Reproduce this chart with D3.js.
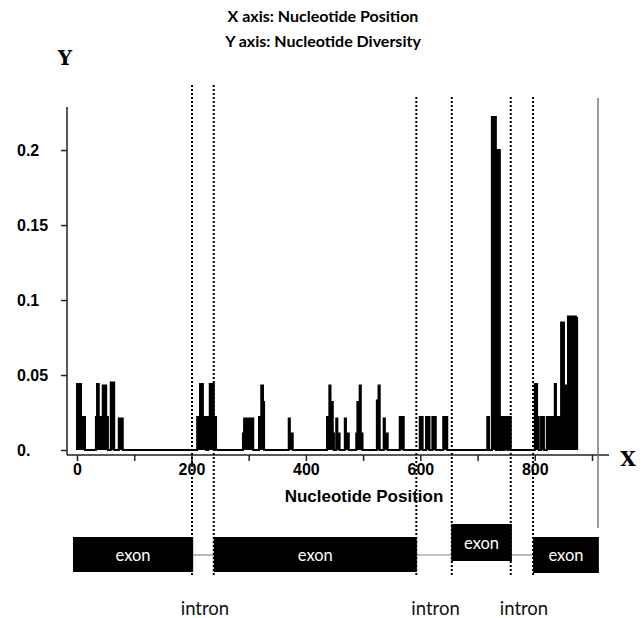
<!DOCTYPE html>
<html>
<head>
<meta charset="utf-8">
<script src="https://cdn.jsdelivr.net/npm/d3@7"></script>
<style>
  body { margin: 0; background: #fff; }
  .tick text { font-family: "Liberation Sans", Arial, sans-serif; font-weight: bold; font-size: 16px; }
</style>
</head>
<body>
<div id="chart"></div>
<script>
// sliding window values: each position starts a step that holds until the next one
var positions = [0, 0, 7, 14, 33, 35, 38, 45, 51, 54, 59, 65, 73, 80,
  210, 215, 220, 226, 229, 232, 239, 243,
  290, 292, 295, 298, 301, 304, 308, 318, 322, 325, 327,
  370, 372, 377,
  437, 441, 443, 447, 449, 453, 455, 459, 468, 470, 475,
  488, 490, 494, 496, 499, 524, 527, 529, 536, 538, 543, 564, 571,
  599, 604, 610, 616, 621, 627, 640, 647,
  717, 720, 725, 732, 735, 739, 741, 745, 747, 752, 753, 758,
  800, 804, 807, 811, 816, 821, 824, 827, 835, 837, 846, 851, 858, 872, 874];
var diversity = [0, 0.044, 0.022, 0, 0.022, 0.044, 0.022, 0.043, 0.022, 0, 0.045, 0, 0.021, 0,
  0.022, 0.044, 0.022, 0, 0.022, 0.044, 0.022, 0,
  0.011, 0.021, 0.011, 0.021, 0.011, 0.021, 0, 0.022, 0.043, 0.032, 0,
  0.021, 0.011, 0,
  0.022, 0.043, 0.032, 0.011, 0, 0.021, 0.011, 0, 0.021, 0.011, 0,
  0.011, 0.032, 0.043, 0.011, 0, 0.033, 0.043, 0, 0.021, 0.011, 0, 0.022, 0,
  0.022, 0, 0.022, 0, 0.022, 0, 0.022, 0,
  0.022, 0, 0.222, 0, 0.2, 0, 0.022, 0, 0.022, 0, 0.022, 0,
  0.044, 0.022, 0, 0.022, 0, 0.022, 0.011, 0.022, 0.044, 0.022, 0.085, 0.043, 0.089, 0.088, 0];

var yTicks = [0, 0.05, 0.1, 0.15, 0.2];
var yTickLabels = ["0.", "0.05", "0.1", "0.15", "0.2"];
var xTicks = [0, 100, 200, 300, 400, 500, 600, 700, 800, 900];
var xTickLabels = ["0", "", "200", "", "400", "", "600", "", "800", ""];

// gene structure (nucleotide positions)
var boundaries = [201, 239, 593, 655, 758, 797];
var exonStart = [-7, 239, 654, 797];
var exonEnd = [203, 594, 760, 912];
var exonLabels = ["exon", "exon", "exon", "exon"];
var intronLabels = ["intron", "intron", "intron"];

var width = 644, height = 618;

var svg = d3.select("#chart")
  .append("svg")
    .attr("width", width)
    .attr("height", height);

var x = d3.scaleLinear()
    .domain([0, 900])
    .range([77, 592]);

var y = d3.scaleLinear()
    .domain([0, 0.2287])
    .range([450, 107]);

// titles
svg.append("text")
    .attr("x", 323).attr("y", 22)
    .attr("text-anchor", "middle")
    .style("font-family", "Lato, sans-serif").style("font-weight", "bold").style("font-size", "16px")
    .text("X axis: Nucleotide Position");
svg.append("text")
    .attr("x", 323).attr("y", 47)
    .attr("text-anchor", "middle")
    .style("font-family", "Lato, sans-serif").style("font-weight", "bold").style("font-size", "16px")
    .text("Y axis: Nucleotide Diversity");

// axis letters
svg.append("text")
    .attr("x", 65).attr("y", 65)
    .attr("text-anchor", "middle")
    .style("font-family", "'DejaVu Serif', serif").style("font-weight", "bold").style("font-size", "20px")
    .text("Y");
svg.append("text")
    .attr("x", 628).attr("y", 466)
    .attr("text-anchor", "middle")
    .style("font-family", "'DejaVu Serif', serif").style("font-weight", "bold").style("font-size", "20px")
    .text("X");

// y axis
var yAxis = svg.append("g")
    .attr("transform", "translate(67,0)")
    .call(d3.axisLeft(y).tickValues(yTicks).tickSize(6).tickSizeOuter(0)
      .tickFormat(function(d, i) { return yTickLabels[i]; }));
yAxis.select(".domain").remove();
yAxis.selectAll(".tick line").attr("stroke", "#222").attr("stroke-width", 1.5);
yAxis.selectAll(".tick text")
    .attr("text-anchor", "start")
    .attr("x", -50);

svg.append("line")
    .attr("x1", 67).attr("x2", 67)
    .attr("y1", 107).attr("y2", 455)
    .attr("stroke", "#222").attr("stroke-width", 1.5);

// x axis
var xAxis = svg.append("g")
    .attr("transform", "translate(0,455)")
    .call(d3.axisBottom(x).tickValues(xTicks).tickSize(6).tickSizeOuter(0)
      .tickFormat(function(d, i) { return xTickLabels[i]; }));
xAxis.select(".domain").remove();
xAxis.selectAll(".tick line").attr("stroke", "#222").attr("stroke-width", 1.5);
xAxis.selectAll(".tick text").attr("y", 9);

svg.append("line")
    .attr("x1", 67).attr("x2", 609)
    .attr("y1", 455).attr("y2", 455)
    .attr("stroke", "#222").attr("stroke-width", 1.5);

svg.append("text")
    .attr("x", 364).attr("y", 502)
    .attr("text-anchor", "middle")
    .style("font-family", "'Liberation Sans', Arial, sans-serif").style("font-weight", "bold").style("font-size", "17px")
    .text("Nucleotide Position");

// right border line
svg.append("line")
    .attr("x1", 598).attr("x2", 598)
    .attr("y1", 98).attr("y2", 528)
    .attr("stroke", "#777").attr("stroke-width", 1.5);

// diversity, filled under the step line
var pts = positions.map(function(p, i) { return [p, diversity[i]]; });
var area = d3.area()
    .x(function(d) { return x(d[0]); })
    .y0(y(0))
    .y1(function(d) { return y(d[1]); })
    .curve(d3.curveStepAfter);
var line = d3.line()
    .x(function(d) { return x(d[0]); })
    .y(function(d) { return y(d[1]); })
    .curve(d3.curveStepAfter);

svg.append("path")
    .datum(pts)
    .attr("d", area)
    .attr("fill", "#000");

svg.append("path")
    .datum(pts)
    .attr("d", line)
    .attr("fill", "none")
    .attr("stroke", "#000")
    .attr("stroke-width", 2);

// intron connectors
for (var i = 0; i < exonStart.length - 1; i++) {
  svg.append("line")
      .attr("x1", x(exonEnd[i])).attr("x2", x(exonStart[i + 1]))
      .attr("y1", 555).attr("y2", 555)
      .attr("stroke", "#888").attr("stroke-width", 1.2);
}

// exon boxes
var exonTop = [537, 537, 524, 537];
var exonH = [35, 35, 37, 36];
svg.append("g").selectAll("rect")
    .data(exonStart)
    .enter()
    .append("rect")
    .attr("x", function(d) { return x(d); })
    .attr("y", function(d, i) { return exonTop[i]; })
    .attr("width", function(d, i) { return x(exonEnd[i]) - x(d); })
    .attr("height", function(d, i) { return exonH[i]; })
    .attr("fill", "#000");

svg.append("g").selectAll("text")
    .data(exonStart)
    .enter()
    .append("text")
    .attr("x", function(d, i) { return (x(d) + x(exonEnd[i])) / 2; })
    .attr("y", function(d, i) { return exonTop[i] + exonH[i] / 2 + 6; })
    .attr("text-anchor", "middle")
    .attr("fill", "#fff")
    .style("font-family", "Lato, sans-serif").style("font-size", "16.5px")
    .text(function(d, i) { return exonLabels[i]; });

// boundary dotted lines
var dotTop = [85, 85, 97, 97, 97, 97];
svg.append("g").selectAll("line")
    .data(boundaries)
    .enter()
    .append("line")
    .attr("x1", function(d) { return x(d); })
    .attr("x2", function(d) { return x(d); })
    .attr("y1", function(d, i) { return dotTop[i]; })
    .attr("y2", 576)
    .attr("stroke", "#000")
    .attr("stroke-width", 2)
    .attr("stroke-dasharray", "2,2");

// intron labels
svg.append("g").selectAll("text")
    .data(intronLabels)
    .enter()
    .append("text")
    .attr("x", function(d, i) { return (x(exonEnd[i]) + x(exonStart[i + 1])) / 2 + 1.5; })
    .attr("y", 615)
    .attr("text-anchor", "middle")
    .attr("fill", "#111")
    .style("font-family", "Lato, sans-serif").style("font-size", "18.5px")
    .text(function(d) { return d; });
</script>
</body>
</html>
